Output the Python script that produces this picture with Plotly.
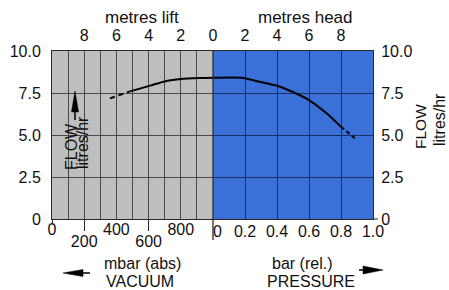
import plotly.graph_objects as go

# ---- data ----
lift_dash_m = [6.4, 5.2]
lift_dash_flow = [7.18, 7.58]
lift_m = [5.2, 3.9, 2.9, 2.0, 0.8, 0.0]
lift_flow = [7.58, 7.94, 8.21, 8.33, 8.39, 8.41]
head_m = [0.0, 1.8, 2.9, 4.0, 5.4, 6.0, 7.1, 8.0]
head_flow = [8.41, 8.41, 8.17, 7.93, 7.38, 7.08, 6.29, 5.49]
head_dash_m = [8.0, 9.0]
head_dash_flow = [5.49, 4.70]

flow_ticks = [0, 2.5, 5.0, 7.5, 10.0]
flow_labels = ["0", "2.5", "5.0", "7.5", "10.0"]
lift_ticks = [8, 6, 4, 2, 0]
head_ticks = [2, 4, 6, 8]
mbar_upper = [0, 400, 800]
mbar_lower = [200, 600]
bar_ticks = [0, 0.2, 0.4, 0.6, 0.8, 1.0]
bar_labels = ["\u00a0\u00a00", "0.2", "0.4", "0.6", "0.8", "1.0"]

GREY = "#bebebe"
BLUE = "#3a70d8"
GRID_G = "#4a4a4a"
GRID_B = "#1b2f62"
FRAME = "#2a2a2a"
TXT = "#111111"
FONT = "Liberation Sans, Arial, sans-serif"

W, H = 449, 290
L, R, T, B = 52, 76, 51, 71
PW, PH = W - L - R, H - T - B
D = 161 / PW


def px(x):
    return (x - L) / PW


def py(y):
    return (H - B - y) / PH


fig = go.Figure()
line_style = dict(color="black", width=2, shape="spline", smoothing=0.6)
fig.add_trace(go.Scatter(x=lift_dash_m, y=lift_dash_flow, xaxis="x5", yaxis="y", mode="lines",
                         line=dict(color="black", width=2, dash="5px,4px"), showlegend=False, hoverinfo="skip"))
fig.add_trace(go.Scatter(x=lift_m, y=lift_flow, xaxis="x5", yaxis="y", mode="lines",
                         line=line_style, showlegend=False, hoverinfo="skip"))
fig.add_trace(go.Scatter(x=head_m, y=head_flow, xaxis="x4", yaxis="y2", mode="lines",
                         line=line_style, showlegend=False, hoverinfo="skip"))
fig.add_trace(go.Scatter(x=head_dash_m, y=head_dash_flow, xaxis="x4", yaxis="y2", mode="lines",
                         line=dict(color="black", width=2, dash="4px,3px"), showlegend=False, hoverinfo="skip"))
# empty traces so that the overlay axes are drawn
for xa, ya in [("x", "y"), ("x3", "y"), ("x6", "y"), ("x2", "y2")]:
    fig.add_trace(go.Scatter(x=[], y=[], xaxis=xa, yaxis=ya, showlegend=False, hoverinfo="skip"))

tickfont = dict(family=FONT, size=16, color=TXT)

fig.update_layout(
    width=W, height=H, margin=dict(l=L, r=R, t=T, b=B, autoexpand=False),
    paper_bgcolor="white", plot_bgcolor="white",
    font=dict(family=FONT, size=16, color=TXT),
    xaxis=dict(domain=[0, D], anchor="y", range=[0, 1000], tickvals=mbar_upper,
               ticks="", showgrid=False, zeroline=False, showline=True, linecolor=FRAME, linewidth=1,
               tickfont=tickfont, ticklabelstandoff=-4, fixedrange=True),
    xaxis3=dict(overlaying="x", anchor="y", side="bottom", range=[0, 1000], tickvals=mbar_lower,
                ticks="outside", ticklen=11, tickcolor=FRAME, tickwidth=1, showgrid=False,
                zeroline=False, showline=False, tickfont=tickfont, ticklabelstandoff=-3, fixedrange=True),
    xaxis6=dict(overlaying="x", anchor="y", side="bottom", range=[0, 1000], tickvals=[0],
                ticks="outside", ticklen=5, tickcolor=FRAME, showticklabels=False, showgrid=False,
                zeroline=False, showline=False),
    xaxis5=dict(overlaying="x", anchor="y", side="top", range=[10, 0], tickvals=lift_ticks,
                ticks="", showgrid=True, gridcolor=GRID_G, gridwidth=1,
                minor=dict(dtick=1, tick0=0, showgrid=True, gridcolor=GRID_G, gridwidth=1),
                zeroline=False, showline=True, linecolor=FRAME, tickfont=tickfont, ticklabelstandoff=3),
    xaxis2=dict(domain=[D, 1], anchor="y2", range=[0, 1], tickvals=bar_ticks, ticktext=bar_labels,
                ticks="", showgrid=False, zeroline=False, showline=True, linecolor=FRAME,
                tickfont=tickfont, ticklabelstandoff=-2),
    xaxis4=dict(overlaying="x2", anchor="y2", side="top", range=[0, 10], tickvals=head_ticks,
                ticks="", showgrid=True, gridcolor=GRID_B, gridwidth=1, zeroline=False,
                showline=True, linecolor=FRAME, tickfont=tickfont, ticklabelstandoff=3),
    yaxis=dict(domain=[0, 1], anchor="x", side="left", range=[0, 10], tickvals=flow_ticks,
               ticktext=flow_labels, ticks="", showgrid=True, gridcolor=GRID_G, zeroline=False,
               showline=True, linecolor=FRAME, tickfont=tickfont, ticklabelstandoff=7),
    yaxis2=dict(domain=[0, 1], anchor="x2", side="right", range=[0, 10], tickvals=flow_ticks,
                ticktext=flow_labels, ticks="", showgrid=True, gridcolor=GRID_B, zeroline=False,
                showline=True, linecolor=FRAME, tickfont=tickfont, ticklabelstandoff=4),
)

shapes = [
    dict(type="rect", xref="x domain", yref="y domain", x0=0, x1=1, y0=0, y1=1,
         fillcolor=GREY, line=dict(width=0), layer="below"),
    dict(type="rect", xref="x2 domain", yref="y2 domain", x0=0, x1=1, y0=0, y1=1,
         fillcolor=BLUE, line=dict(width=0), layer="below"),
    # divider between vacuum and pressure, with long tick below
    dict(type="line", xref="paper", yref="paper", x0=D, x1=D, y0=1, y1=py(240),
         line=dict(color=FRAME, width=1.3)),
    # small tick at the right-hand 0
    dict(type="line", xref="paper", yref="paper", x0=1, x1=px(378), y0=0, y1=0,
         line=dict(color=FRAME, width=1)),
    # FLOW arrow (up)
    dict(type="line", xref="paper", yref="paper", x0=px(75), x1=px(75), y0=py(120), y1=py(110),
         line=dict(color="black", width=1.5)),
    dict(type="path", xref="paper", yref="paper",
         path=f"M {px(75)} {py(91)} L {px(78.5)} {py(112)} L {px(71.5)} {py(112)} Z",
         fillcolor="black", line=dict(color="black", width=0.5)),
    # VACUUM arrow (left)
    dict(type="line", xref="paper", yref="paper", x0=px(90), x1=px(80), y0=py(273), y1=py(273),
         line=dict(color="black", width=1.5)),
    dict(type="path", xref="paper", yref="paper",
         path=f"M {px(63)} {py(273)} L {px(83)} {py(269.5)} L {px(83)} {py(276.5)} Z",
         fillcolor="black", line=dict(color="black", width=0.5)),
    # PRESSURE arrow (right)
    dict(type="line", xref="paper", yref="paper", x0=px(359), x1=px(367), y0=py(270), y1=py(270),
         line=dict(color="black", width=1.5)),
    dict(type="path", xref="paper", yref="paper",
         path=f"M {px(383)} {py(270)} L {px(363)} {py(266)} L {px(363)} {py(274)} Z",
         fillcolor="black", line=dict(color="black", width=0.5)),
]
fig.update_layout(shapes=shapes)

def ann(text, x, y, size=17, angle=0):
    return dict(text=text, xref="paper", yref="paper", x=px(x), y=py(y), showarrow=False,
                xanchor="center", yanchor="middle", textangle=angle,
                font=dict(family=FONT, size=size, color=TXT))

fig.update_layout(annotations=[
    ann("metres lift", 142, 17),
    ann("metres head", 305, 17),
    ann("mbar (abs)", 142, 263, 16),
    ann("VACUUM", 140, 281.5, 16),
    ann("bar (rel.)", 302, 263, 16),
    ann("PRESSURE", 311, 281.5, 16),
    ann("FLOW", 71, 147, 16, -90),
    ann("litres/hr", 82, 143, 16, -90),
    ann("FLOW", 420, 126, 15.5, -90),
    ann("litres/hr", 439, 120, 16, -90),
])

fig.write_html("out.html", config={"displayModeBar": False},
               post_script="document.body.style.margin='0';")
